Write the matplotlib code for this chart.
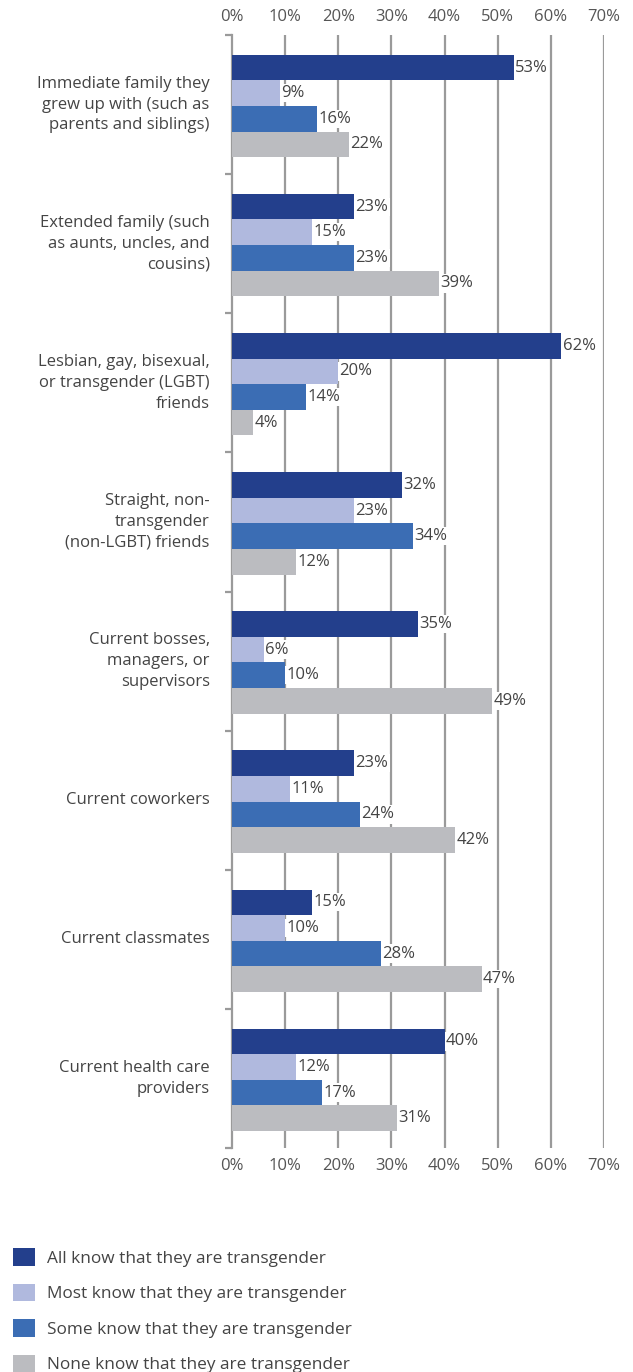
import matplotlib
matplotlib.use("Agg")
import matplotlib.pyplot as plt
from matplotlib.patches import Patch
import numpy as np

plt.rcParams['font.family'] = ['Open Sans', 'DejaVu Sans']

categories = [
    "Immediate family they\ngrew up with (such as\nparents and siblings)",
    "Extended family (such\nas aunts, uncles, and\ncousins)",
    "Lesbian, gay, bisexual,\nor transgender (LGBT)\nfriends",
    "Straight, non-\ntransgender\n(non-LGBT) friends",
    "Current bosses,\nmanagers, or\nsupervisors",
    "Current coworkers",
    "Current classmates",
    "Current health care\nproviders",
]
series_names = [
    "All know that they are transgender",
    "Most know that they are transgender",
    "Some know that they are transgender",
    "None know that they are transgender",
]
all_know = [53, 23, 62, 32, 35, 23, 15, 40]
most_know = [9, 15, 20, 23, 6, 11, 10, 12]
some_know = [16, 23, 14, 34, 10, 24, 28, 17]
none_know = [22, 39, 4, 12, 49, 42, 47, 31]
colors = ["#233f8c", "#b0b9de", "#3b6db4", "#bbbcc0"]
xticks = [0, 10, 20, 30, 40, 50, 60, 70]

series = [all_know, most_know, some_know, none_know]
text_c = "#444444"
grid_c = "#9a9a9a"
fs = 12

fig = plt.figure(figsize=(6.33, 13.72), dpi=100)
ax = fig.add_axes([232/633, 1 - 1148/1372, (604-232)/633, (1148-35)/1372])

n = len(categories)
bh = 0.184
for k, vals in enumerate(series):
    y = np.arange(n) + 0.5 + (k - 1.5) * bh + 0.01
    ax.barh(y, vals, height=bh, color=colors[k], zorder=3)
    for yy, v in zip(y, vals):
        ax.text(v + 0.25, yy, f"{v}%", va="center", ha="left", fontsize=fs,
                color=text_c, zorder=4,
                bbox=dict(facecolor="white", edgecolor="none", pad=0.8))

for x in xticks[1:]:
    ax.axvline(x, color=grid_c, lw=1.6, zorder=1)

for i, c in enumerate(categories):
    ax.text(-4.2, i + 0.5, c, ha="right", va="center", fontsize=fs,
            color=text_c, linespacing=1.4)

ax.set_xlim(0, 70)
ax.set_ylim(n, 0)
ax.set_xticks(xticks)
ax.set_xticklabels([f"{x}%" for x in xticks])
ax.set_yticks(np.arange(n + 1))
ax.set_yticklabels([])
ax.tick_params(axis="x", length=0, labeltop=True, labelbottom=True,
               labelsize=fs, labelcolor="#555555", pad=7)
ax.tick_params(axis="y", length=5, width=1.6, color=grid_c)
for s in ["top", "right", "bottom"]:
    ax.spines[s].set_visible(False)
ax.spines["left"].set_color(grid_c)
ax.spines["left"].set_linewidth(1.6)

handles = [Patch(facecolor=c, edgecolor="none") for c in colors]
fig.legend(handles, series_names, loc="upper left",
           bbox_to_anchor=(13/633, 1 - 1248/1372), frameon=False,
           fontsize=12.4, handlelength=1.25, handleheight=1.2,
           handletextpad=0.75, labelspacing=0.98, borderpad=0,
           borderaxespad=0, labelcolor=text_c)

fig.savefig("out.png", dpi=100)
